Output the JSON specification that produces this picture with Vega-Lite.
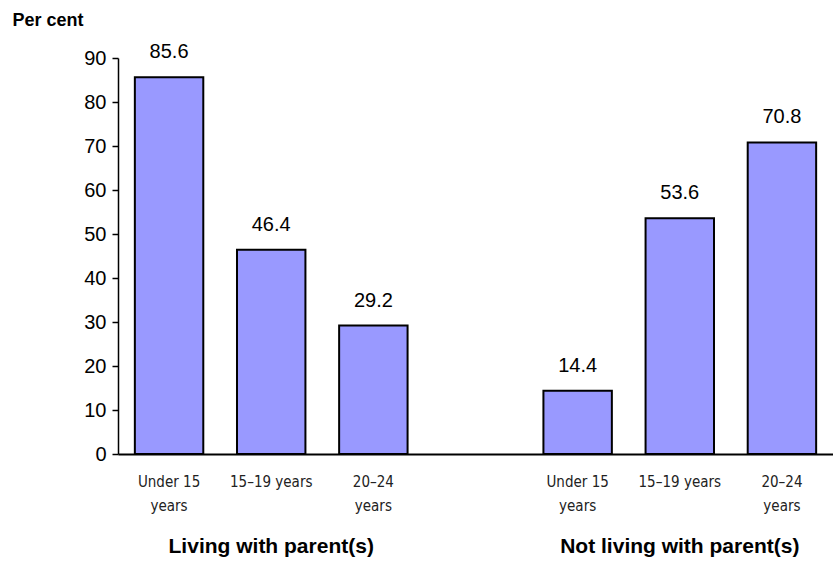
{
  "$schema": "https://vega.github.io/schema/vega-lite/v6.json",
  "width": 715,
  "height": 396,
  "autosize": {"type": "none"},
  "padding": {"left": 118, "top": 58, "right": 0, "bottom": 113},
  "background": "white",
  "config": {"view": {"stroke": null}, "font": "Liberation Sans"},
  "data": {
    "values": [
      {"slot": "L1", "group": "Living with parent(s)", "age": "Under 15 years", "value": 85.6},
      {"slot": "L2", "group": "Living with parent(s)", "age": "15–19 years", "value": 46.4},
      {"slot": "L3", "group": "Living with parent(s)", "age": "20–24 years", "value": 29.2},
      {"slot": "N1", "group": "Not living with parent(s)", "age": "Under 15 years", "value": 14.4},
      {"slot": "N2", "group": "Not living with parent(s)", "age": "15–19 years", "value": 53.6},
      {"slot": "N3", "group": "Not living with parent(s)", "age": "20–24 years", "value": 70.8}
    ]
  },
  "encoding": {
    "x": {
      "field": "slot",
      "type": "nominal",
      "sort": null,
      "scale": {"domain": ["L1", "L2", "L3", "gap", "N1", "N2", "N3"], "paddingInner": 0.33, "paddingOuter": 0.165},
      "axis": {
        "title": null,
        "ticks": false,
        "labelAngle": 0,
        "labelFont": "DejaVu Sans Condensed, Liberation Sans",
        "labelFontSize": 15,
        "labelColor": "#222222",
        "labelPadding": 20,
        "labelLineHeight": 24,
        "labelBaseline": "top",
        "domainColor": "black",
        "domainWidth": 2,
        "labelExpr": "datum.value == 'L1' || datum.value == 'N1' ? ['Under 15', 'years'] : (datum.value == 'L2' || datum.value == 'N2' ? ['15–19 years'] : (datum.value == 'L3' || datum.value == 'N3' ? ['20–24', 'years'] : ''))"
      }
    }
  },
  "layer": [
    {
      "mark": {"type": "bar", "fill": "#9999FF", "stroke": "black", "strokeWidth": 2},
      "encoding": {
        "y": {
          "field": "value",
          "type": "quantitative",
          "scale": {"domain": [0, 90], "nice": false},
          "axis": {
            "values": [0, 10, 20, 30, 40, 50, 60, 70, 80, 90],
            "grid": false,
            "tickColor": "black",
            "tickSize": 6,
            "tickWidth": 1.5,
            "domainColor": "black",
            "domainWidth": 1.5,
            "labelFontSize": 20,
            "labelColor": "black",
            "labelPadding": 6,
            "title": "Per cent",
            "titleAngle": 0,
            "titleAlign": "left",
            "titleBaseline": "middle",
            "titleFontSize": 18,
            "titleFontWeight": "bold",
            "titleColor": "black",
            "titleX": -106,
            "titleY": -38
          }
        }
      }
    },
    {
      "mark": {"type": "text", "fontSize": 20, "color": "black", "baseline": "alphabetic", "dy": -19},
      "encoding": {
        "y": {"field": "value", "type": "quantitative"},
        "text": {"field": "value", "type": "quantitative", "format": ".1f"}
      }
    },
    {
      "transform": [{"filter": "datum.slot == 'L2' || datum.slot == 'N2'"}],
      "mark": {"type": "text", "fontSize": 21, "fontWeight": "bold", "color": "black", "baseline": "middle", "dy": 93},
      "encoding": {
        "y": {"datum": 0, "type": "quantitative"},
        "text": {"field": "group"}
      }
    }
  ]
}
